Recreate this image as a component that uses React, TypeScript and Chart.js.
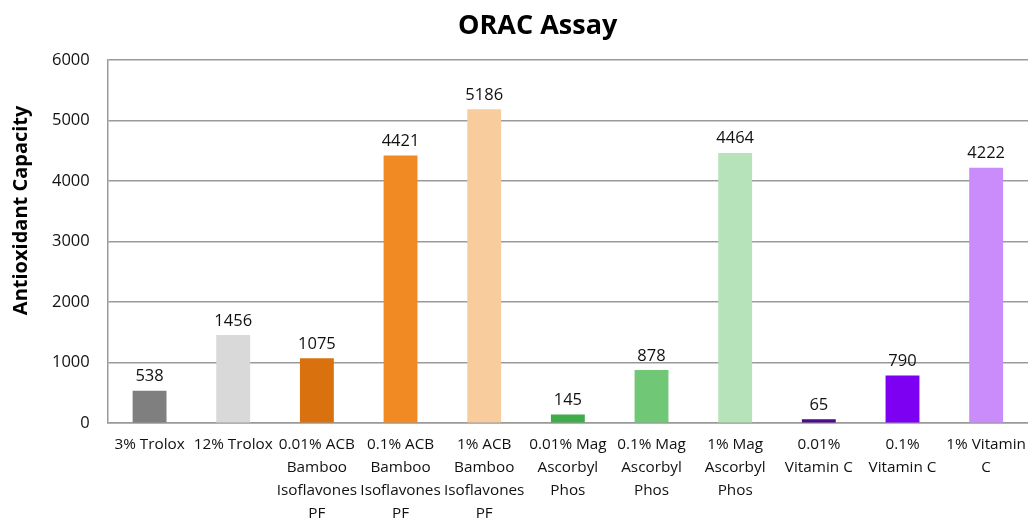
import React, { useEffect, useRef } from "react";
import { Chart, registerables } from "chart.js";

Chart.register(...registerables);

const chartTitle = "ORAC Assay";
const yAxisTitle = "Antioxidant Capacity";

const categories: string[][] = [
  ["3% Trolox"],
  ["12% Trolox"],
  ["0.01% ACB", "Bamboo", "Isoflavones", "PF"],
  ["0.1% ACB", "Bamboo", "Isoflavones", "PF"],
  ["1% ACB", "Bamboo", "Isoflavones", "PF"],
  ["0.01% Mag", "Ascorbyl", "Phos"],
  ["0.1% Mag", "Ascorbyl", "Phos"],
  ["1% Mag", "Ascorbyl", "Phos"],
  ["0.01%", "Vitamin C"],
  ["0.1%", "Vitamin C"],
  ["1% Vitamin", "C"],
];

const values: number[] = [538, 1456, 1075, 4421, 5186, 145, 878, 4464, 65, 790, 4222];

const barColors: string[] = [
  "#7f7f7f",
  "#d9d9d9",
  "#d8710e",
  "#f28a23",
  "#f9cc9d",
  "#3fac49",
  "#70c876",
  "#b6e3b9",
  "#4a0b8c",
  "#7d00f3",
  "#c98cfa",
];

const yTicks = { min: 0, max: 6000, step: 1000 };

const FONT = "'Open Sans', Lato, sans-serif";

const decorPlugin = {
  id: "decor",
  afterDatasetsDraw(chart: any) {
    const ctx = chart.ctx;
    const meta = chart.getDatasetMeta(0);
    ctx.save();
    ctx.fillStyle = "#111";
    ctx.font = `16.5px ${FONT}`;
    ctx.textAlign = "center";
    ctx.textBaseline = "bottom";
    meta.data.forEach((bar: any, i: number) => {
      ctx.fillText(String(values[i]), bar.x, bar.y - 6);
    });
    ctx.restore();
  },
  afterDraw(chart: any) {
    const ctx = chart.ctx;
    const area = chart.chartArea;
    ctx.save();
    ctx.fillStyle = "#000";
    ctx.font = `bold 27px ${FONT}`;
    ctx.textAlign = "center";
    ctx.textBaseline = "alphabetic";
    ctx.fillText(chartTitle, chart.width * 0.519, 34);
    ctx.font = `bold 20px ${FONT}`;
    ctx.translate(27, area.top + area.height * 0.414);
    ctx.rotate(-Math.PI / 2);
    ctx.textAlign = "center";
    ctx.textBaseline = "alphabetic";
    ctx.fillText(yAxisTitle, 0, 0);
    ctx.restore();
  },
};

export default function App() {
  const ref = useRef<HTMLCanvasElement | null>(null);

  useEffect(() => {
    if (!ref.current) return;
    const chart = new Chart(ref.current, {
      type: "bar",
      data: {
        labels: categories,
        datasets: [
          {
            data: values,
            backgroundColor: barColors,
            borderWidth: 0,
            categoryPercentage: 1,
            barPercentage: 0.405,
          },
        ],
      },
      options: {
        animation: false,
        responsive: false,
        layout: { padding: { top: 60, left: 34, right: -3, bottom: -14 } },
        plugins: {
          legend: { display: false },
          title: { display: false },
          tooltip: { enabled: false },
        },
        scales: {
          x: {
            grid: { display: false, drawTicks: false },
            border: { display: true, color: "#9a9a9a", width: 1.5 },
            ticks: {
              color: "#111",
              font: { family: FONT, size: 15.3, lineHeight: 1.5 },
              padding: 10,
              maxRotation: 0,
              minRotation: 0,
              autoSkip: false,
            },
          },
          y: {
            min: yTicks.min,
            max: yTicks.max,
            grid: { color: "#9a9a9a", lineWidth: 1.5, drawTicks: false },
            border: { display: true, color: "#9a9a9a", width: 1.5 },
            ticks: {
              stepSize: yTicks.step,
              color: "#111",
              font: { family: FONT, size: 16.5 },
              padding: 18,
              callback: (v: any) => String(v),
            },
          },
        },
      },
      plugins: [decorPlugin],
    });
    return () => chart.destroy();
  }, []);

  return (
    <canvas
      ref={ref}
      width={1036}
      height={521}
      style={{ position: "absolute", left: 0, top: 0, display: "block" }}
    />
  );
}
